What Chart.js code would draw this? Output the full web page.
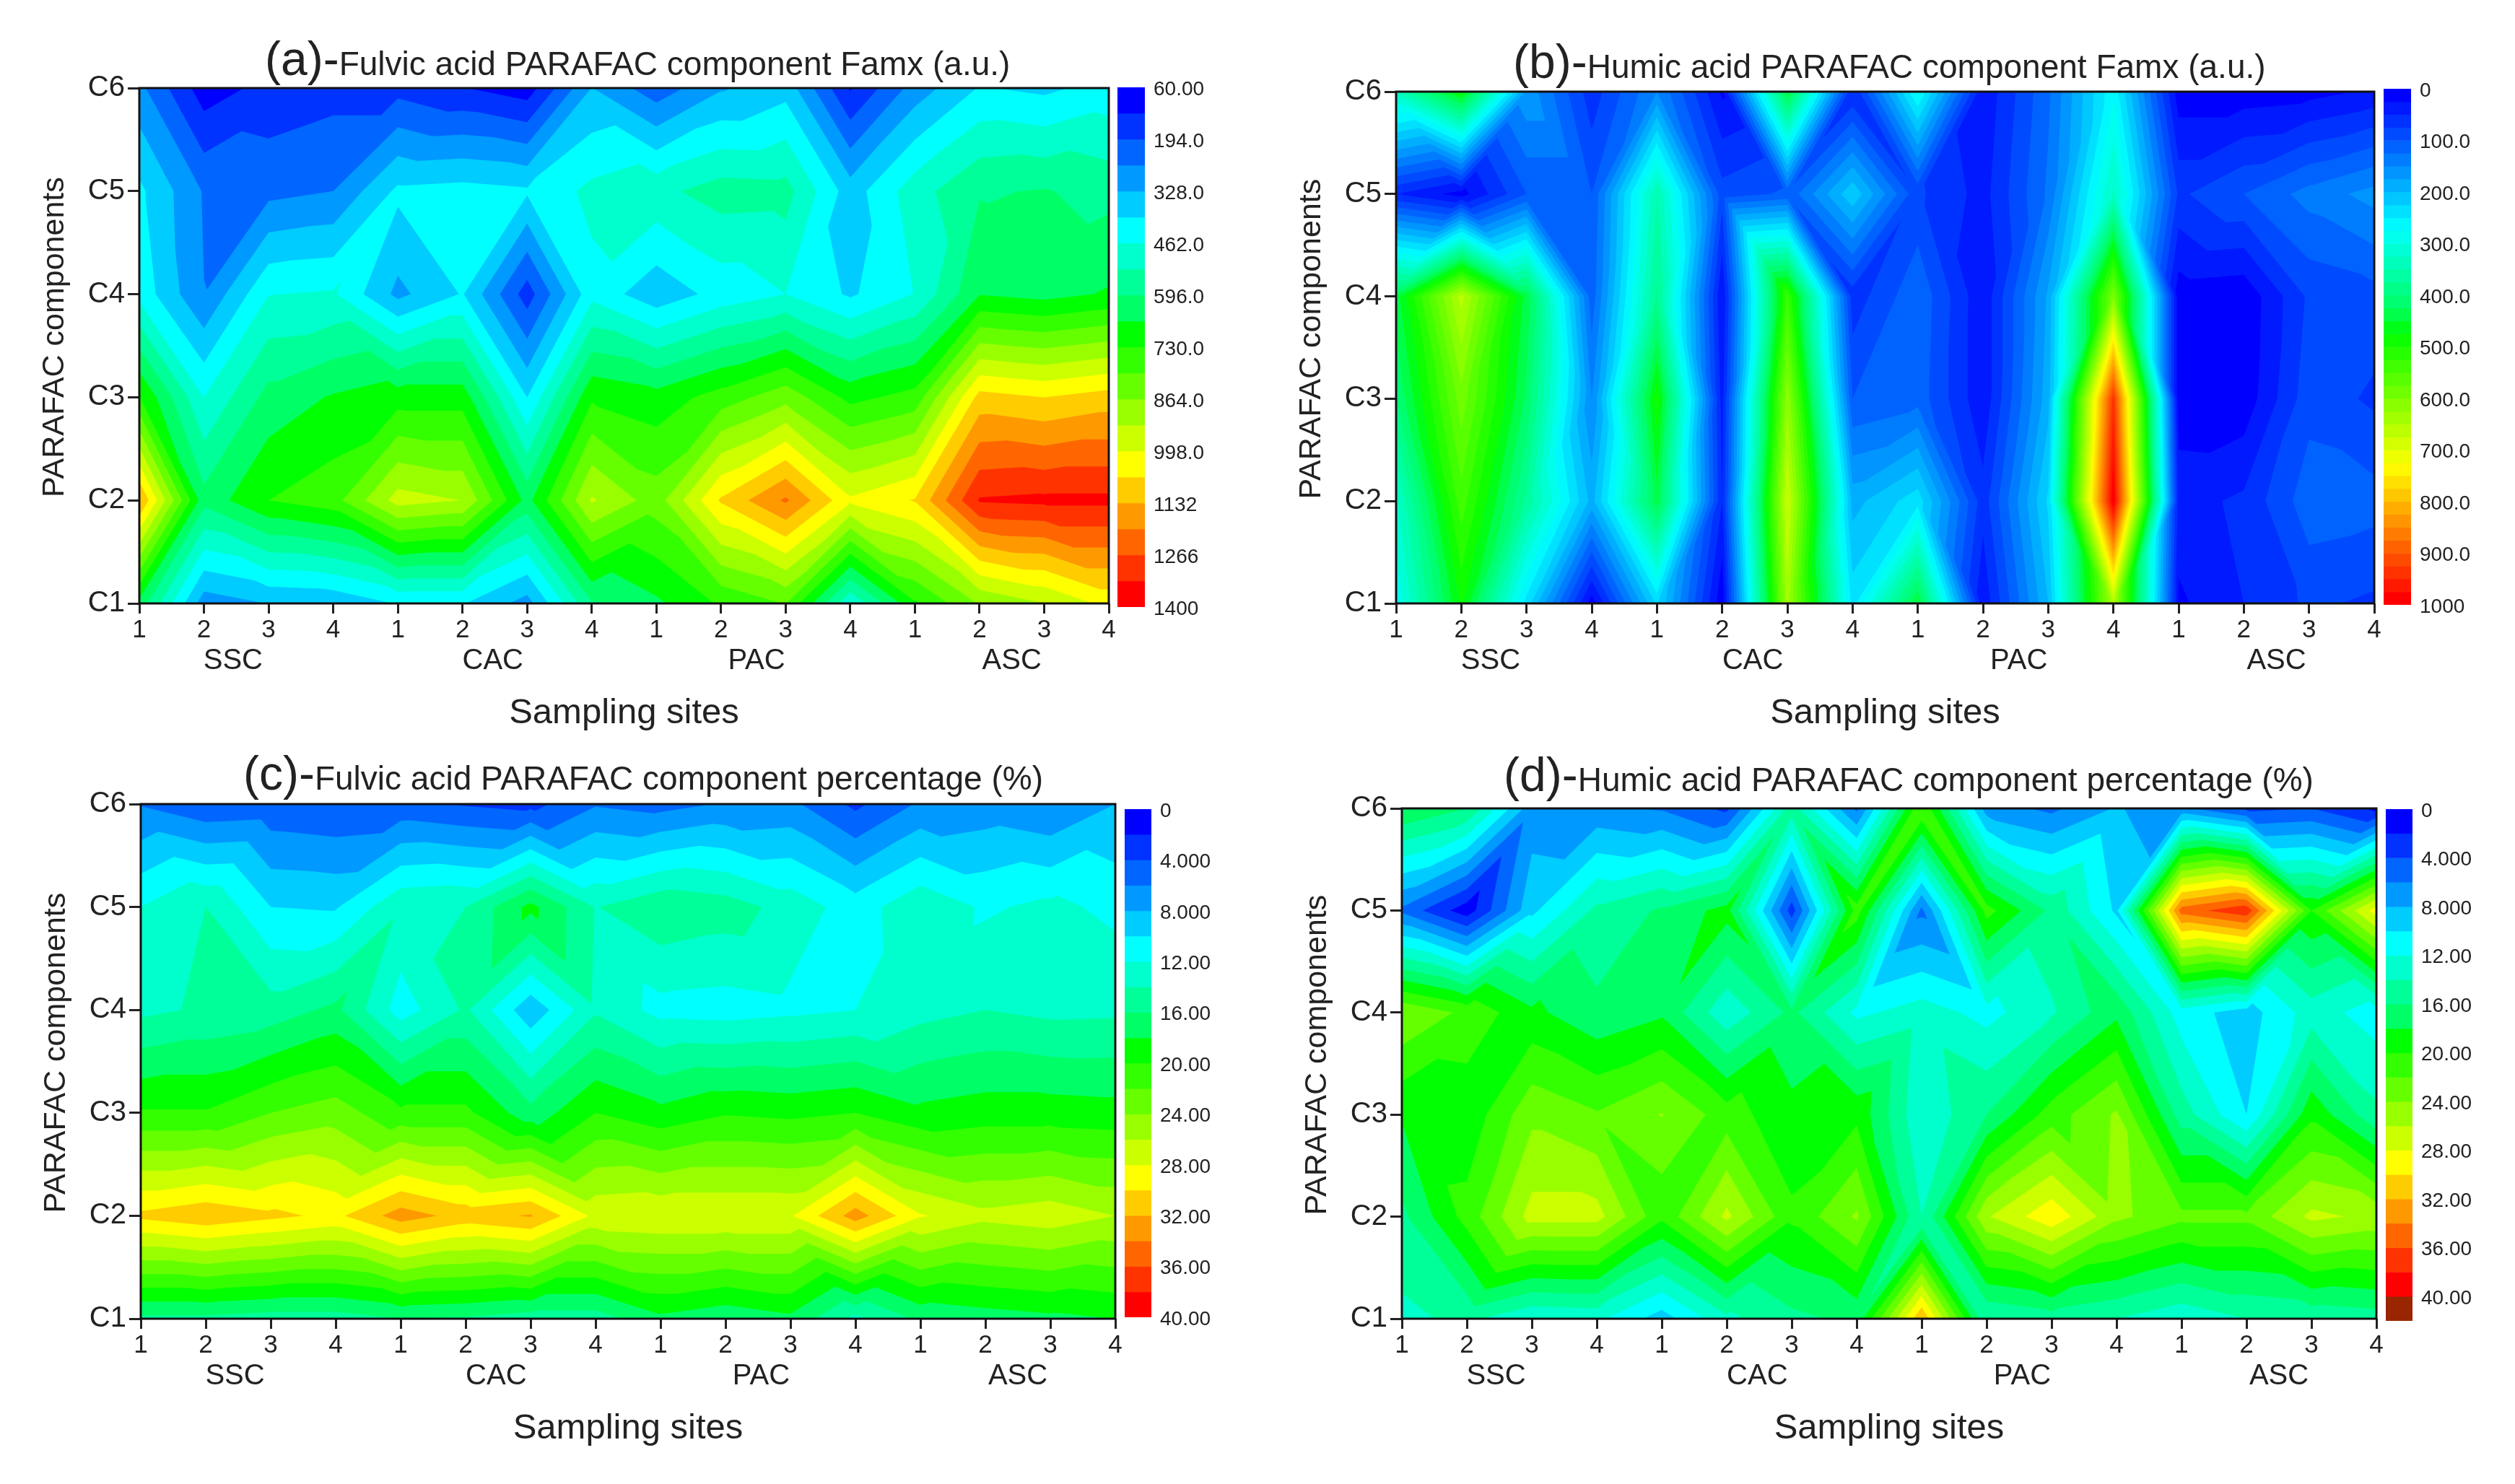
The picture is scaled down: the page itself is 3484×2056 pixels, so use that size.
<!DOCTYPE html>
<html>
<head>
<meta charset="utf-8">
<title>PARAFAC component contour maps</title>
<script src="https://cdn.jsdelivr.net/npm/chart.js@4/dist/chart.umd.min.js"></script>
<style>
    html, body { margin: 0; padding: 0; background: #fff; }
    #page { position: relative; width: 3484px; height: 2056px; overflow: hidden; }
    canvas { position: absolute; }
    .panel-title { position: absolute; white-space: nowrap; color: #222; font-family: "Liberation Sans", sans-serif; line-height: 1; }
</style>
</head>
<body>
<div id="page"></div>
<script>
// x axis: four sites in each of four groups
const siteTicks = ['1', '2', '3', '4', '1', '2', '3', '4', '1', '2', '3', '4', '1', '2', '3', '4'];
const groupNames = ['SSC', 'CAC', 'PAC', 'ASC'];
const groupCentres = [1.45, 5.47, 9.55, 13.5];
const componentTicks = ['C1', 'C2', 'C3', 'C4', 'C5', 'C6'];

const fulvicFamx = [
    [640, 290, 330, 340, 400, 400, 300, 590, 650, 740, 800, 470, 720, 870, 930, 1020],
    [1140, 620, 730, 770, 960, 930, 640, 940, 830, 1075, 1210, 1010, 1070, 1340, 1350, 1350],
    [735, 462, 620, 670, 700, 700, 395, 720, 690, 760, 840, 710, 755, 1090, 1065, 1095],
    [440, 262, 460, 470, 310, 400, 160, 440, 350, 420, 462, 385, 465, 660, 640, 670],
    [410, 255, 240, 261, 410, 420, 405, 480, 510, 560, 555, 360, 500, 590, 600, 575],
    [280, 90, 150, 170, 170, 130, 90, 330, 220, 320, 370, 120, 290, 400, 380, 420]
];
const humicFamx = [
    [280, 480, 240, 10, 230, 5, 640, 240, 450, 30, 200, 650, 20, 50, 80, 70],
    [320, 540, 370, 190, 440, 50, 680, 190, 240, 60, 230, 1000, 40, 55, 115, 110],
    [400, 590, 420, 150, 490, 40, 620, 100, 115, 30, 190, 940, 10, 8, 90, 70],
    [440, 660, 440, 110, 380, 25, 530, 60, 120, 30, 180, 600, 10, 5, 80, 90],
    [50, 15, 100, 100, 350, 85, 105, 220, 80, 40, 130, 330, 70, 100, 135, 160],
    [340, 480, 170, 60, 150, 20, 450, 50, 280, 30, 120, 270, 10, 10, 15, 30]
];
const fulvicPercent = [
    [15.5, 15.5, 15, 15, 16, 15.7, 15, 15, 17.5, 16.5, 17.5, 13.5, 16.4, 17, 17.5, 18],
    [30.5, 31.5, 30.5, 29.5, 33, 31.2, 32.2, 27.5, 27.8, 27.8, 27.8, 33, 28.2, 26.6, 27.2, 26],
    [20.2, 20.2, 22, 23, 20.5, 20.5, 16.7, 20, 18.6, 19.8, 19.5, 20, 18.5, 19, 19, 18.8],
    [13.5, 14.3, 14.9, 16.5, 11, 14.3, 8.5, 13.7, 11.3, 11.1, 11.5, 12, 13.3, 14, 13.5, 13.6],
    [12, 14, 10, 9.8, 13.7, 14, 18.6, 13.9, 15.6, 15, 13.2, 11, 13.5, 11.7, 12.5, 11.5],
    [5.8, 4.3, 4.6, 4.2, 4.5, 3.8, 3.3, 5.8, 5.2, 6.2, 6.5, 3.5, 6.3, 6.8, 6, 8]
];
const humicPercent = [
    [13.5, 14.5, 12.2, 12.5, 9, 13.5, 15.5, 16.5, 32, 14, 15, 14, 12.5, 14, 14.5, 15],
    [15.5, 20.8, 26.8, 26.8, 20.5, 26.5, 20.4, 24.3, 14, 25.8, 29.5, 24.5, 22.5, 22.5, 26.5, 25.5],
    [18.2, 18.5, 23.5, 22.2, 24.1, 21, 18.5, 19.5, 12.3, 16, 21, 24.3, 15, 10, 19.5, 14.5],
    [23.8, 21.5, 18.5, 16.5, 17.7, 12.5, 16.5, 11.5, 13, 11.3, 13.7, 17.5, 11, 9, 13, 11],
    [5.5, 0.8, 9.5, 14.5, 16.3, 18.8, 3, 21, 5.5, 20.8, 15.5, 9.6, 35, 37.5, 20, 29],
    [18, 16, 6.8, 6.5, 5.8, 3.5, 15, 5.5, 22, 7, 5.5, 8.2, 6.5, 3.5, 4, 1.5]
];
// cells [column, row] of panel d whose cutting diagonal goes the other way
const humicPercentFlips = [[1, 4], [5, 4], [6, 4], [7, 4], [8, 4]];

// colour scale tick labels
const fulvicFamxTicks = ['60.00', '194.0', '328.0', '462.0', '596.0', '730.0', '864.0', '998.0', '1132', '1266', '1400'];
const humicFamxTicks = ['0', '100.0', '200.0', '300.0', '400.0', '500.0', '600.0', '700.0', '800.0', '900.0', '1000'];
const percentTicks = ['0', '4.000', '8.000', '12.00', '16.00', '20.00', '24.00', '28.00', '32.00', '36.00', '40.00'];

const rainbow = ['#0000ff', '#0033ff', '#0066ff', '#0099ff', '#00ccff', '#00ffff', '#00ffcc', '#00ff99', '#00ff66', '#00ff00',
    '#33ff00', '#66ff00', '#99ff00', '#ccff00', '#ffff00', '#ffcc00', '#ff9900', '#ff6600', '#ff3300', '#ff0000'];
const overRange = '#992600';

const FONT = '"Liberation Sans", sans-serif';
const TEXT = '#222';
Chart.defaults.font.family = FONT;
Chart.defaults.color = TEXT;

const panels = [
    {
        letter: '(a)-', title: 'Fulvic acid PARAFAC component Famx (a.u.)', titleLeft: 367, titleBottom: 114,
        rows: fulvicFamx, flips: [], ticks: fulvicFamxTicks, min: 60, max: 1400, step: 67, colors: rainbow,
        left: 193, right: 1536, top: 122, bottom: 836, barLeft: 1548, barRight: 1586, barTop: 121, barBottom: 841
    },
    {
        letter: '(b)-', title: 'Humic acid PARAFAC component Famx (a.u.)', titleLeft: 2096, titleBottom: 118,
        rows: humicFamx, flips: [], ticks: humicFamxTicks, min: 0, max: 1000, step: 25, colors: spread(40),
        left: 1934, right: 3289, top: 127, bottom: 836, barLeft: 3302, barRight: 3340, barTop: 123, barBottom: 838
    },
    {
        letter: '(c)-', title: 'Fulvic acid PARAFAC component percentage (%)', titleLeft: 337, titleBottom: 1104,
        rows: fulvicPercent, flips: [], ticks: percentTicks, min: 0, max: 40, step: 2, colors: rainbow,
        left: 195, right: 1545, top: 1114, bottom: 1827, barLeft: 1558, barRight: 1595, barTop: 1121, barBottom: 1825
    },
    {
        letter: '(d)-', title: 'Humic acid PARAFAC component percentage (%)', titleLeft: 2083, titleBottom: 1106,
        rows: humicPercent, flips: humicPercentFlips, ticks: percentTicks, min: 0, max: 42, step: 2, colors: rainbow.concat(overRange),
        left: 1942, right: 3292, top: 1120, bottom: 1827, barLeft: 3305, barRight: 3342, barTop: 1121, barBottom: 1830
    }
];

// rainbow stretched to n bands for the finer scale of panel b
function spread(n) {
    const rgb = rainbow.map(h => [1, 3, 5].map(i => parseInt(h.substr(i, 2), 16)));
    const out = [];
    for (let i = 0; i < n; i++) {
        const p = i * (rgb.length - 1) / (n - 1);
        const a = Math.min(Math.floor(p), rgb.length - 2);
        const f = p - a;
        const c = rgb[a].map((v, j) => Math.round(v + (rgb[a + 1][j] - v) * f));
        out.push(`rgb(${c[0]},${c[1]},${c[2]})`);
    }
    return out;
}

function clipAbove(poly, level) {
    const out = [];
    poly.forEach((a, i) => {
        const b = poly[(i + 1) % poly.length];
        if (a.v >= level) out.push(a);
        if ((a.v >= level) !== (b.v >= level)) {
            const t = (level - a.v) / (b.v - a.v);
            out.push({ x: a.x + (b.x - a.x) * t, y: a.y + (b.y - a.y) * t, v: level });
        }
    });
    return out;
}

// 1 if the grid node is a peak or pit among its up/down/left/right neighbours
function isExtreme(rows, c, r) {
    const v = rows[r][c];
    const around = [[c - 1, r], [c + 1, r], [c, r - 1], [c, r + 1]]
        .filter(([i, j]) => rows[j] && rows[j][i] !== undefined)
        .map(([i, j]) => rows[j][i]);
    return (around.every(n => n < v) || around.every(n => n > v)) ? 1 : 0;
}

// filled contour bands. Each cell is cut along the diagonal that misses peaks and pits,
// else the one whose two ends are closest in value, which keeps the diamonds of the source figure
function contourPlugin(panel) {
    return {
        id: 'contourFill',
        beforeDatasetsDraw(chart) {
            const { ctx, chartArea, scales } = chart;
            const rows = panel.rows;
            const tris = [];
            const pt = (c, r) => ({ x: scales.x.getPixelForValue(c), y: scales.y.getPixelForValue(r + 1), v: rows[r][c] });
            for (let r = 0; r < rows.length - 1; r++) {
                for (let c = 0; c < rows[r].length - 1; c++) {
                    const [a, b, d, e] = [pt(c, r), pt(c + 1, r), pt(c + 1, r + 1), pt(c, r + 1)];
                    const onAD = isExtreme(rows, c, r) + isExtreme(rows, c + 1, r + 1);
                    const onBE = isExtreme(rows, c + 1, r) + isExtreme(rows, c, r + 1);
                    let useAD = onAD !== onBE ? onAD < onBE : Math.abs(a.v - d.v) <= Math.abs(b.v - e.v);
                    if (panel.flips.some(f => f[0] === c && f[1] === r)) useAD = !useAD;
                    if (useAD) {
                        tris.push([a, b, d], [a, d, e]);
                    } else {
                        tris.push([a, b, e], [b, d, e]);
                    }
                }
            }
            ctx.save();
            ctx.beginPath();
            ctx.rect(chartArea.left, chartArea.top, chartArea.width, chartArea.height);
            ctx.clip();
            ctx.fillStyle = panel.colors[0];
            ctx.fillRect(chartArea.left, chartArea.top, chartArea.width, chartArea.height);
            for (let k = 1; k < panel.colors.length; k++) {
                const level = panel.min + k * panel.step;
                ctx.beginPath();
                tris.forEach(t => {
                    const poly = clipAbove(t, level);
                    if (poly.length < 3) return;
                    ctx.moveTo(poly[0].x, poly[0].y);
                    poly.slice(1).forEach(p => ctx.lineTo(p.x, p.y));
                    ctx.closePath();
                });
                ctx.fillStyle = panel.colors[k];
                ctx.fill();
            }
            ctx.restore();
        },
        afterDatasetsDraw(chart) {
            const { ctx, chartArea } = chart;
            ctx.save();
            ctx.strokeStyle = '#111';
            ctx.lineWidth = 3;
            ctx.strokeRect(chartArea.left, chartArea.top, chartArea.width, chartArea.height);
            ctx.restore();
        }
    };
}

function addCanvas(left, top, width, height) {
    const c = document.createElement('canvas');
    c.width = width;
    c.height = height;
    c.style.left = left + 'px';
    c.style.top = top + 'px';
    c.style.width = width + 'px';
    c.style.height = height + 'px';
    document.getElementById('page').appendChild(c);
    return c;
}

const AXIS_W = 143, PAD_TOP = 40, PAD_RIGHT = 40, TICKS_H = 56, GROUP_H = 126;

function drawContour(panel) {
    const plotW = panel.right - panel.left, plotH = panel.bottom - panel.top;
    const canvas = addCanvas(panel.left - AXIS_W, panel.top - PAD_TOP, AXIS_W + plotW + PAD_RIGHT, PAD_TOP + plotH + TICKS_H + GROUP_H);
    const points = [];
    panel.rows.forEach((row, r) => row.forEach((v, c) => points.push({ x: c, y: r + 1, v })));
    new Chart(canvas, {
        type: 'scatter',
        data: { datasets: [{ label: panel.title, data: points, pointRadius: 0, showLine: false }] },
        options: {
            responsive: false,
            animation: false,
            devicePixelRatio: 1,
            layout: { padding: { top: PAD_TOP, right: PAD_RIGHT, left: 0, bottom: 0 } },
            plugins: { legend: { display: false }, tooltip: { enabled: false } },
            scales: {
                x: {
                    type: 'linear', min: 0, max: 15, weight: 0,
                    afterFit: s => { s.height = TICKS_H; },
                    afterBuildTicks: s => { s.ticks = siteTicks.map((t, i) => ({ value: i })); },
                    ticks: { autoSkip: false, maxRotation: 0, color: TEXT, padding: 2, font: { size: 35 }, callback: v => siteTicks[v] },
                    grid: { drawOnChartArea: false, tickLength: 14, tickColor: TEXT, lineWidth: 3 },
                    border: { display: false }
                },
                groups: {
                    type: 'linear', axis: 'x', position: 'bottom', min: 0, max: 15, weight: 1,
                    afterFit: s => { s.height = GROUP_H; },
                    afterBuildTicks: s => { s.ticks = groupCentres.map(v => ({ value: v })); },
                    ticks: { autoSkip: false, maxRotation: 0, color: TEXT, padding: 0, font: { size: 40 }, callback: v => groupNames[groupCentres.indexOf(v)] },
                    grid: { display: false, drawTicks: false },
                    border: { display: false },
                    title: { display: true, text: 'Sampling sites', color: TEXT, font: { size: 49 }, padding: 0 }
                },
                y: {
                    type: 'linear', min: 1, max: 6,
                    afterFit: s => { s.width = AXIS_W; },
                    afterBuildTicks: s => { s.ticks = componentTicks.map((t, i) => ({ value: i + 1 })); },
                    ticks: { autoSkip: false, color: TEXT, padding: 4, font: { size: 40 }, callback: v => componentTicks[v - 1] },
                    grid: { drawOnChartArea: false, tickLength: 16, tickColor: TEXT, lineWidth: 3 },
                    border: { display: false },
                    // leading spaces move the rotated title up a little, as in the source figure
                    title: { display: true, text: '  PARAFAC components', color: TEXT, font: { size: 43 }, padding: 0 }
                }
            }
        },
        plugins: [contourPlugin(panel)]
    });
}

function drawColourBar(panel) {
    const BAR_PAD = 30, LABEL_W = 120;
    const canvas = addCanvas(panel.barLeft, panel.barTop - BAR_PAD, panel.barRight - panel.barLeft + LABEL_W, panel.barBottom - panel.barTop + 2 * BAR_PAD);
    const tickStep = (panel.step * panel.colors.length - (panel.colors.length % 2 ? panel.step : 0)) / (panel.ticks.length - 1);
    const datasets = panel.colors.map((color, k) => ({
        data: [[panel.min + k * panel.step, panel.min + (k + 1) * panel.step]],
        backgroundColor: color,
        borderWidth: 0,
        grouped: false,
        barPercentage: 1,
        categoryPercentage: 1
    }));
    new Chart(canvas, {
        type: 'bar',
        data: { labels: [''], datasets },
        options: {
            responsive: false,
            animation: false,
            devicePixelRatio: 1,
            layout: { padding: { top: BAR_PAD, bottom: BAR_PAD, left: 0, right: 0 } },
            plugins: { legend: { display: false }, tooltip: { enabled: false } },
            scales: {
                x: { display: false },
                y: {
                    position: 'right', reverse: true, min: panel.min, max: panel.max,
                    afterFit: s => { s.width = LABEL_W; },
                    afterBuildTicks: s => { s.ticks = panel.ticks.map((t, i) => ({ value: panel.min + i * tickStep })); },
                    ticks: {
                        autoSkip: false, color: TEXT, padding: 12, labelOffset: 3, font: { size: 28 },
                        callback: v => panel.ticks[Math.round((v - panel.min) / tickStep)]
                    },
                    grid: { display: false, drawTicks: false },
                    border: { display: false }
                }
            }
        }
    });
}

function addTitle(panel) {
    const div = document.createElement('div');
    div.className = 'panel-title';
    div.style.left = panel.titleLeft + 'px';
    div.style.bottom = (2056 - panel.titleBottom) + 'px';
    div.style.fontSize = '46px';
    div.innerHTML = `<span style="font-size:66px">${panel.letter}</span>${panel.title}`;
    document.getElementById('page').appendChild(div);
}

panels.forEach(panel => {
    drawContour(panel);
    drawColourBar(panel);
    addTitle(panel);
});
</script>
</body>
</html>
